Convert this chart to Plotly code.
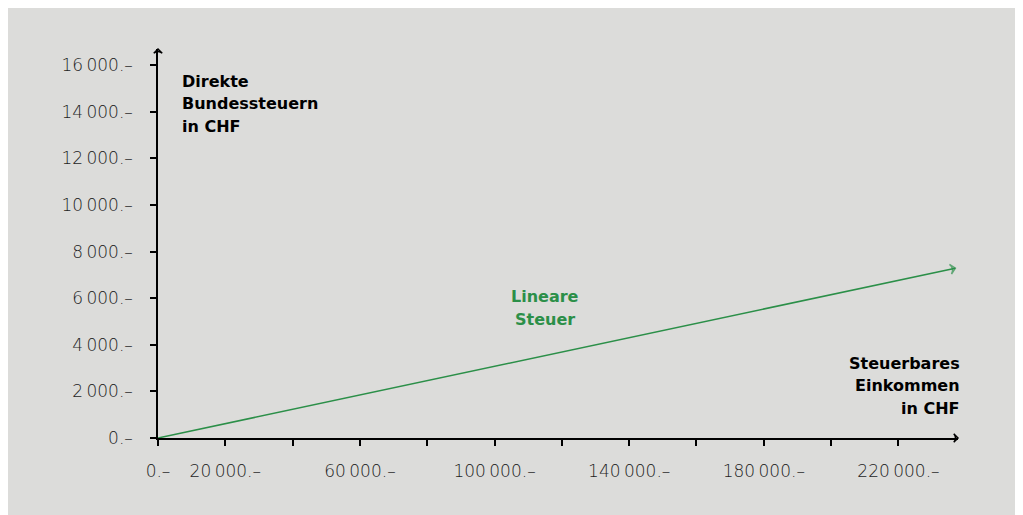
import plotly.graph_objects as go

# ---- data ----
income = [0, 236900]
tax = [0, 7290]
line_label = ["Lineare", "Steuer"]
y_title = ["Direkte", "Bundessteuern", "in CHF"]
x_title = ["Steuerbares", "Einkommen", "in CHF"]

x_tick_vals = [0, 20000, 40000, 60000, 80000, 100000, 120000, 140000, 160000, 180000, 200000, 220000]
x_tick_text = ["0.–", "20\u2009000.–", "", "60\u2009000.–", "", "100\u2009000.–", "", "140\u2009000.–", "", "180\u2009000.–", "", "220\u2009000.–"]
y_tick_vals = [0, 2000, 4000, 6000, 8000, 10000, 12000, 14000, 16000]
y_tick_text = ["0.–", "2\u2009000.–", "4\u2009000.–", "6\u2009000.–", "8\u2009000.–", "10\u2009000.–", "12\u2009000.–", "14\u2009000.–", "16\u2009000.–"]

X_MAX = 237700
Y_MAX = 16700

GREEN = "#2b8f48"
GRAY = "#dcdcda"
FONT = "DejaVu Sans"
OFF = 8  # page body margin
W, H = 1015, 507
L, R, T, B = 158 - OFF, 65, 49 - OFF, 77
PW, PH = W - L - R, H - T - B
LINE_GAP = 22.7

def px_x(p):
    return (p - OFF - L) / PW

def px_y(p):
    return (H - B - (p - OFF)) / PH

fig = go.Figure()

fig.add_trace(go.Scatter(
    x=income, y=tax, mode="lines+markers",
    line=dict(color=GREEN, width=1.5),
    marker=dict(symbol="arrow-wide-open", size=[0, 7], angleref="previous",
                color=GREEN, line=dict(color=GREEN, width=1.5)),
    cliponaxis=False, hoverinfo="skip", showlegend=False,
))

# axis arrowheads
fig.add_trace(go.Scatter(
    x=[X_MAX, 0], y=[0, Y_MAX], mode="markers",
    marker=dict(symbol="arrow-wide-open", size=6, angle=[90, 0],
                color="black", line=dict(color="black", width=1.5)),
    cliponaxis=False, hoverinfo="skip", showlegend=False,
))

tickfont = dict(size=17, family=FONT, weight=200, color="#1e1e1e")

fig.update_layout(
    width=W, height=H,
    margin=dict(l=L, r=R, t=T, b=B),
    paper_bgcolor=GRAY,
    plot_bgcolor=GRAY,
    font=dict(family=FONT, color="#1e1e1e"),
    xaxis=dict(range=[0, X_MAX], showgrid=False, zeroline=False,
               showline=True, linecolor="black", linewidth=1.5,
               ticks="outside", ticklen=6, tickwidth=1.5, tickcolor="black",
               tickvals=x_tick_vals, ticktext=x_tick_text,
               tickfont=tickfont, ticklabelstandoff=11),
    yaxis=dict(range=[0, Y_MAX], showgrid=False, zeroline=False,
               showline=True, linecolor="black", linewidth=1.5,
               ticks="outside", ticklen=6, tickwidth=1.5, tickcolor="black",
               tickvals=y_tick_vals, ticktext=y_tick_text,
               tickfont=tickfont, ticklabelstandoff=14),
)

titlefont = dict(size=16, family=FONT, weight=700, color="black")

def add_lines(lines, x_px, y0_px, anchor, font):
    for i, t in enumerate(lines):
        fig.add_annotation(
            xref="paper", yref="paper", x=px_x(x_px), y=px_y(y0_px + i * LINE_GAP),
            xanchor=anchor, yanchor="middle", text="<b>%s</b>" % t,
            showarrow=False, font=font,
        )

add_lines(y_title, 180, 81, "left", titlefont)
add_lines(x_title, 962, 363, "right", titlefont)
add_lines(line_label, 545, 296.5, "center",
          dict(size=16, family=FONT, weight=700, color=GREEN))

fig.write_html("out.html")
